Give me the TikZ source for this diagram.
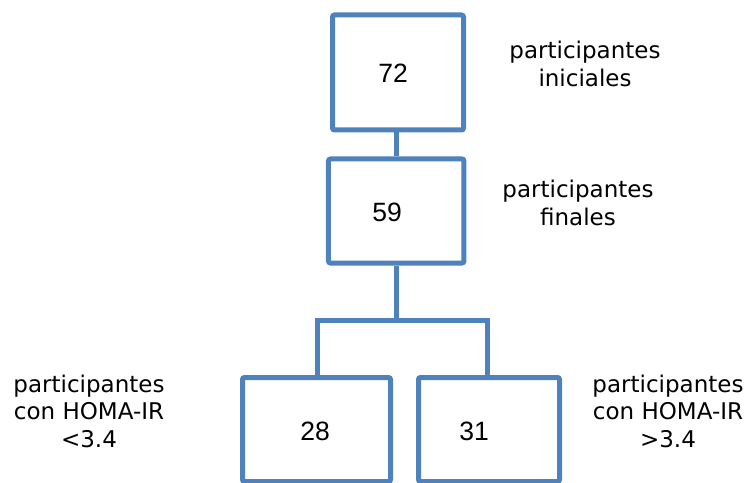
\documentclass[tikz,border=0pt]{standalone}
\usepackage{fontspec}
\setmainfont{Liberation Sans}
\newfontfamily\labelfont{DejaVu Sans}
\definecolor{boxblue}{RGB}{79,129,189}
\begin{document}
\begin{tikzpicture}[x=1bp,y=-1bp,
  boxst/.style={draw=boxblue,line width=5bp,fill=white,rounded corners=2bp,inner sep=0pt},
  numst/.style={font=\fontsize{26.5bp}{30bp}\selectfont,inner sep=0pt},
  lblst/.style={font=\labelfont\fontsize{23bp}{27.5bp}\selectfont,align=center,inner sep=0pt},
  conn/.style={draw=boxblue,line width=5bp}]
\useasboundingbox (0,0) rectangle (751,483);
\coordinate (j1) at (396.5,320);
\coordinate (jl) at (317,320);
\coordinate (jr) at (487,320);
\node[boxst,minimum width=131bp,minimum height=115bp] (b1) at (398,72.5) {};
\node[boxst,minimum width=135.5bp,minimum height=104bp] (b2) at (396.2,211) {};
\node[boxst,minimum width=148bp,minimum height=104bp] (b3) at (316.5,429.5) {};
\node[boxst,minimum width=141bp,minimum height=104bp] (b4) at (489,429.5) {};
\draw[conn] (b1.south -| j1) -- (b2.north -| j1);
\draw[conn] (b2.south -| j1) -- (j1);
\draw[conn] (jl |- b3.north) -- (jl) -- (jr) -- (jr |- b4.north);
\node[numst] (n1) at (393,73) {72};
\node[numst] (n2) at (387,212) {59};
\node[numst] (n3) at (315,431) {28};
\node[numst] (n4) at (474,431) {31};
\node[lblst] (l1) at (585,64) {participantes\\iniciales};
\node[lblst] (l2) at (578,203) {participantes\\finales};
\node[lblst] (l3) at (89,411) {participantes\\con HOMA-IR\\<3.4};
\node[lblst] (l4) at (668,411) {participantes\\con HOMA-IR\\>3.4};
\end{tikzpicture}
\end{document}
